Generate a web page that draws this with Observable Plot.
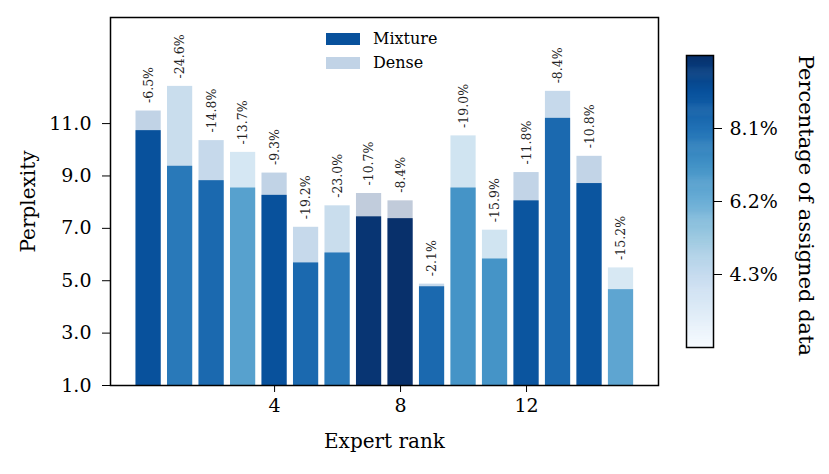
<!DOCTYPE html>
<html><head><meta charset="utf-8">
<script src="https://cdn.jsdelivr.net/npm/d3@7"></script>
<script src="https://cdn.jsdelivr.net/npm/@observablehq/plot@0.6"></script>
<style>
body{margin:0;background:#fff;}
#wrap{position:relative;width:829px;height:474px;font-family:"DejaVu Serif",serif;color:#000;}
#wrap svg{position:absolute;top:0;}
.sw{position:absolute;width:34px;height:12px;}
.lt{position:absolute;font-size:16px;line-height:16px;}
</style></head><body><div id="wrap"></div>
<script>
// ---- data ----
const ranks = [0,1,2,3,4,5,6,7,8,9,10,11,12,13,14,15];
const mixture = [10.73,9.37,8.82,8.54,8.26,5.68,6.06,7.44,7.37,4.77,8.54,5.83,8.05,11.20,8.71,4.66];
const dense   = [11.48,12.42,10.35,9.90,9.11,7.04,7.86,8.33,8.05,4.87,10.53,6.93,9.13,12.23,9.75,5.49];
const reductions = ["-6.5%","-24.6%","-14.8%","-13.7%","-9.3%","-19.2%","-23.0%","-10.7%","-8.4%","-2.1%","-19.0%","-15.9%","-11.8%","-8.4%","-10.8%","-15.2%"];
const share = [9.01,7.85,8.30,6.65,9.01,8.30,7.85,9.80,9.95,8.30,7.06,7.06,8.90,8.30,8.90,6.50];
const yTicks = [1,3,5,7,9,11];
const xTicks = [4,8,12];
const cbTicks = [4.325,6.2,8.075];
const cbTickLabels = ["4.3%","6.2%","8.1%"];
const shareMin = 2.45, shareMax = 9.95;
const blues = ["#f7fbff","#deebf7","#c6dbef","#9ecae1","#6baed6","#4292c6","#2171b5","#08519c","#08306b"];
const legendLabels = ["Mixture","Dense"];

const data = ranks.map((r,i)=>({rank:r, mixture:mixture[i], dense:dense[i], label:reductions[i], share:share[i]}));
const colorDomain = blues.map((_,i)=> shareMin + i*(shareMax-shareMin)/(blues.length-1));
const color = {type:"linear", domain:colorDomain, range:blues, interpolate:"rgb"};
const font = "DejaVu Serif, serif";

const main = Plot.plot({
  width:829, height:474, marginLeft:110, marginRight:171, marginTop:17, marginBottom:89,
  style:{fontFamily:font, fontSize:"19px", color:"#000", background:"transparent", overflow:"visible"},
  x:{domain:[-1.21,16.19], label:null},
  y:{domain:[1,15.05], label:null},
  color,
  marks:[
    Plot.rectY(data,{x1:d=>d.rank-0.4, x2:d=>d.rank+0.4, y:"dense", fill:"share", fillOpacity:0.25, clip:true}),
    Plot.rectY(data,{x1:d=>d.rank-0.4, x2:d=>d.rank+0.4, y:"mixture", fill:"share", clip:true}),
    Plot.text(data,{x:"rank", y:"dense", text:"label", rotate:-90, textAnchor:"start", dy:-8, fontSize:12.5, fill:"#222", letterSpacing:"1px"}),
    Plot.axisX({ticks:xTicks, tickSize:7, tickPadding:6, label:null, fontSize:19}),
    Plot.axisY({ticks:yTicks, tickFormat:d3.format(".1f"), tickSize:8, tickPadding:11, label:null, fontSize:19}),
    Plot.frame({stroke:"#000", strokeWidth:1.5}),
    Plot.text(["Perplexity"],{frameAnchor:"left", textAnchor:"middle", lineAnchor:"middle", rotate:-90, dx:-82, fontSize:20}),
    Plot.text(["Expert rank"],{frameAnchor:"bottom", textAnchor:"middle", lineAnchor:"middle", dy:56, fontSize:20})
  ]
});

const nSlices = 300;
const step = (shareMax-shareMin)/nSlices;
const cbValues = d3.range(nSlices).map(i => shareMin + (i+0.5)*step);
const cb = Plot.plot({
  width:149, height:474, marginLeft:6, marginRight:116, marginTop:55, marginBottom:127,
  style:{fontFamily:font, fontSize:"19px", color:"#000", background:"transparent", overflow:"visible"},
  x:{domain:[0,1], axis:null},
  y:{domain:[shareMin, shareMax], axis:null},
  color,
  marks:[
    Plot.rect(cbValues,{x1:0, x2:1, y1:d=>Math.max(shareMin,d-step*0.8), y2:d=>Math.min(shareMax,d+step*0.8), fill:d=>d}),
    Plot.frame({stroke:"#000", strokeWidth:1.5}),
    Plot.axisY({anchor:"right", ticks:cbTicks, tickFormat:(d,i)=>cbTickLabels[i], tickSize:8, tickPadding:8, label:null, fontSize:19}),
    Plot.text(["Percentage of assigned data"],{frameAnchor:"right", textAnchor:"middle", lineAnchor:"middle", rotate:90, dx:92, dy:4, fontSize:21})
  ]
});

const wrap = document.getElementById("wrap");
main.style.left = "0px";
cb.style.left = "680px";
wrap.appendChild(main);
wrap.appendChild(cb);

// legend
const legColor = main.scale("color").apply(share[0]);
const legItems = [
  {label:legendLabels[0], top:33, opacity:1},
  {label:legendLabels[1], top:57, opacity:0.25}
];
legItems.forEach(it=>{
  const s = document.createElement("div");
  s.className="sw"; s.style.left="326px"; s.style.top=it.top+"px";
  s.style.background=legColor; s.style.opacity=it.opacity;
  wrap.appendChild(s);
  const t = document.createElement("div");
  t.className="lt"; t.style.left="373px"; t.style.top=(it.top-2)+"px";
  t.textContent=it.label;
  wrap.appendChild(t);
});
</script></body></html>
